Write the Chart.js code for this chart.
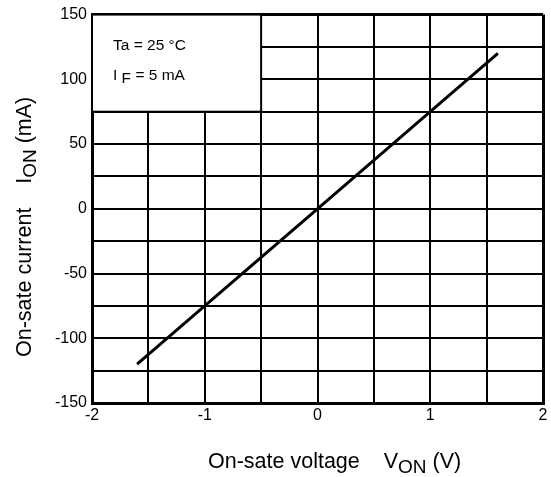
<!DOCTYPE html>
<html>
<head>
<meta charset="utf-8">
<script src="https://cdn.jsdelivr.net/npm/chart.js@4/dist/chart.umd.min.js"></script>
<style>
	html, body { margin: 0; padding: 0; background: #fff; }
	canvas { display: block; }
</style>
</head>
<body>
<canvas id="chart-ion" width="551" height="477"></canvas>
<script>
// Data
// ================================================================================
let von_volts = [-1.6, -1, 0, 1, 1.6];
let ion_ma = [-120, -75, 0, 75, 120];

let x_ticks = [-2, -1, 0, 1, 2];
let y_ticks = [-150, -100, -50, 0, 50, 100, 150];

let note_lines = ["Ta = 25 \u00b0C", "I", "F", "= 5 mA"];
let note_box = { x_from: -2, x_to: -0.5, y_from: 75, y_to: 150 };

const FONT = '"Liberation Sans", Arial, sans-serif';

// Helpers
// ================================================================================
function draw_sub(ctx, parts, x, y) {
	// parts: [text, size, dy]
	let cx = x;
	parts.forEach(p => {
		ctx.font = p[1] + 'px ' + FONT;
		ctx.fillText(p[0], cx, y + p[2]);
		cx += ctx.measureText(p[0]).width;
	});
}

let extras = {
	id: 'extras',
	beforeDatasetsDraw(chart) {
		let ctx = chart.ctx;
		let xs = chart.scales.x, ys = chart.scales.y;
		let l = xs.getPixelForValue(note_box.x_from);
		let r = xs.getPixelForValue(note_box.x_to);
		let t = ys.getPixelForValue(note_box.y_to);
		let b = ys.getPixelForValue(note_box.y_from);
		ctx.save();
		ctx.fillStyle = '#fff';
		ctx.fillRect(l, t, r - l, b - t);
		ctx.strokeStyle = '#000';
		ctx.lineWidth = 2;
		ctx.strokeRect(l, t, r - l, b - t);

		ctx.fillStyle = '#000';
		ctx.textBaseline = 'alphabetic';
		ctx.textAlign = 'left';
		ctx.font = '15.5px ' + FONT;
		ctx.fillText(note_lines[0], l + 21, t + 35);
		draw_sub(ctx, [[note_lines[1] + ' ', 15.5, 0], [note_lines[2], 15.5, 3], [' ' + note_lines[3], 15.5, 0]], l + 21, t + 65);
		ctx.restore();
	},
	afterDraw(chart) {
		let ctx = chart.ctx;
		ctx.save();
		ctx.fillStyle = '#000';
		ctx.textAlign = 'left';
		ctx.textBaseline = 'alphabetic';

		// x title
		draw_sub(ctx, [['On-sate voltage', 21.5, 0], ['    V', 21.5, 0], ['ON', 19, 5], [' (V)', 21.5, 0]], 208, 468);

		// y title
		ctx.translate(31, 357);
		ctx.rotate(-Math.PI / 2);
		draw_sub(ctx, [['On-sate current', 21.5, 0], ['    I', 21.5, 0], ['ON', 19, 5], [' (mA)', 21.5, 0]], 0, 0);
		ctx.restore();
	}
};

let edge_width = (ctx, lo, hi) => {
	let v = ctx.tick && ctx.tick.value;
	return (v === lo || v === hi) ? 3 : 2;
};

new Chart(document.getElementById('chart-ion'), {
	type: 'scatter',
	data: {
		datasets: [{
			data: von_volts.map((v, i) => ({ x: v, y: ion_ma[i] })),
			showLine: true,
			borderColor: '#000',
			borderWidth: 3,
			pointRadius: 0,
			tension: 0
		}]
	},
	options: {
		responsive: false,
		animation: false,
		devicePixelRatio: 1,
		layout: { padding: { top: 14, right: 8, left: 0, bottom: 0 } },
		plugins: {
			legend: { display: false },
			tooltip: { enabled: false }
		},
		scales: {
			x: {
				type: 'linear',
				min: x_ticks[0],
				max: x_ticks[x_ticks.length - 1],
				afterFit: (scale) => { scale.height = 74; },
				grid: {
					color: '#000',
					lineWidth: (ctx) => edge_width(ctx, -2, 2),
					drawTicks: false
				},
				border: { color: '#000', width: 3 },
				ticks: {
					stepSize: 0.5,
					color: '#000',
					padding: 3,
					maxRotation: 0,
					autoSkip: false,
					font: { family: FONT, size: 16 },
					callback: (v) => x_ticks.includes(v) ? String(v) : ''
				}
			},
			y: {
				type: 'linear',
				min: y_ticks[0],
				max: y_ticks[y_ticks.length - 1],
				afterFit: (scale) => { scale.width = 92; },
				grid: {
					color: '#000',
					lineWidth: (ctx) => edge_width(ctx, -150, 150),
					drawTicks: false
				},
				border: { color: '#000', width: 3 },
				ticks: {
					stepSize: 25,
					color: '#000',
					padding: 5,
					autoSkip: false,
					font: { family: FONT, size: 16 },
					callback: (v) => y_ticks.includes(v) ? String(v) : ''
				}
			}
		}
	},
	plugins: [extras]
});
</script>
</body>
</html>
